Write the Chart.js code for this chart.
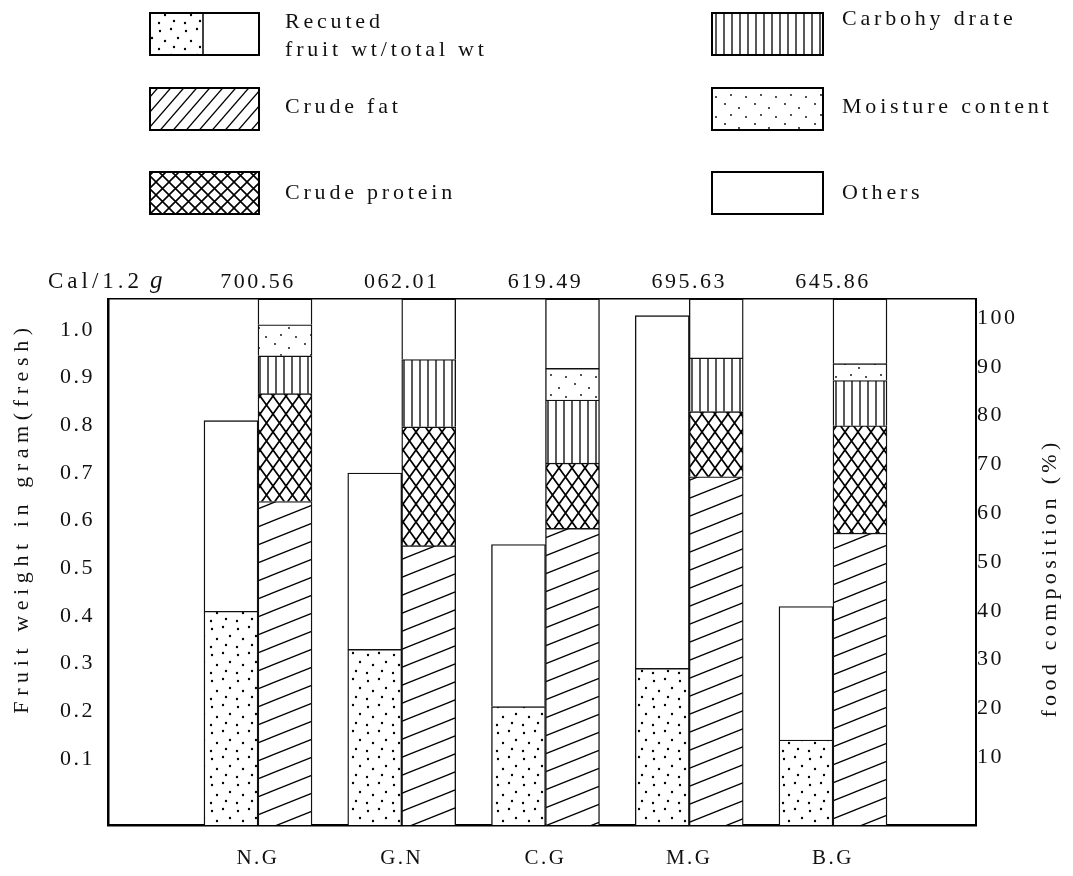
<!DOCTYPE html>
<html>
<head>
<meta charset="utf-8">
<script src="https://cdn.jsdelivr.net/npm/chart.js@4"></script>
<style>
  html, body { margin: 0; padding: 0; background: #fff; }
</style>
</head>
<body>
<canvas id="chart" width="1073" height="876"></canvas>
<script>
/* Data */
const groups = ["N.G", "G.N", "C.G", "M.G", "B.G"];
const calories = ["700.56", "062.01", "619.49", "695.63", "645.86"];

// fruit weight in gram (fresh)
const totalWeight = [0.81, 0.70, 0.55, 1.03, 0.42];
const recutedWeight = [0.41, 0.33, 0.21, 0.29, 0.14];

// food composition (%), bottom to top
const crudeFat = [61.5, 53.1, 56.4, 66.2, 55.5];
const crudeProtein = [20.5, 22.6, 12.4, 12.4, 20.4];
const carbohydrate = [7.2, 12.8, 12.0, 10.2, 8.6];
const moisture = [5.9, 0, 6.0, 0, 3.2];
const others = [4.9, 11.5, 13.2, 11.2, 12.3];

const weightTicks = [0.1, 0.2, 0.3, 0.4, 0.5, 0.6, 0.7, 0.8, 0.9, 1.0];
const percentTicks = [10, 20, 30, 40, 50, 60, 70, 80, 90, 100];

/* Axis ranges (the drawn frame starts a bit below zero) */
const X_MIN = -0.0435, X_MAX = 5.995;
const Y_MIN = -0.0384, Y_MAX = 1.065;
const P_MIN = -3.9, P_MAX = 103.9;

const serif = "'Liberation Serif', 'DejaVu Serif', serif";
const ink = "#111";

const canvas = document.getElementById("chart");
const ctx = canvas.getContext("2d");

/* Patterns */
function tile(w, h, draw) {
  const c = document.createElement("canvas");
  c.width = w;
  c.height = h;
  const g = c.getContext("2d");
  g.fillStyle = "#fff";
  g.fillRect(0, 0, w, h);
  g.fillStyle = "#000";
  g.strokeStyle = "#000";
  draw(g, w, h);
  return ctx.createPattern(c, "repeat");
}

function dots(points, r) {
  return (g) => {
    points.forEach(([x, y]) => {
      g.beginPath();
      g.arc(x, y, r, 0, Math.PI * 2);
      g.fill();
    });
  };
}

function slash(width) {
  return (g, w, h) => {
    g.lineWidth = width;
    for (let k = -1; k <= 1; k++) {
      g.beginPath();
      g.moveTo(-w, 2 * h + k * h);
      g.lineTo(2 * w, -h + k * h);
      g.stroke();
    }
  };
}

function cross(width) {
  return (g, w, h) => {
    g.lineWidth = width;
    for (let k = -1; k <= 1; k++) {
      g.beginPath();
      g.moveTo(-w, -h + k * h);
      g.lineTo(2 * w, 2 * h + k * h);
      g.moveTo(-w, 2 * h + k * h);
      g.lineTo(2 * w, -h + k * h);
      g.stroke();
    }
  };
}

const patterns = {
  recuted: tile(26, 26, dots([[4, 5], [15, 3], [22, 12], [9, 15], [18, 21], [3, 23]], 1.2)),
  moisture: tile(30, 20, dots([[5, 4], [19, 8], [11, 15], [26, 17]], 0.9)),
  fat: tile(45, 18, slash(1.3)),
  protein: tile(13, 18, cross(1.7)),
  carb: tile(8, 8, (g) => {
    g.lineWidth = 1.3;
    g.beginPath();
    g.moveTo(4, 0);
    g.lineTo(4, 8);
    g.stroke();
  }),
  others: "#ffffff",
  fatKey: tile(13, 15, slash(1.3)),
  proteinKey: tile(13, 13, cross(1.6))
};

/* Datasets */
const xs = groups.map((g, i) => i + 1);

function range(lo, hi) {
  return xs.map((x, i) => ({ x: x, y: [typeof lo === "number" ? lo : lo[i], hi[i]] }));
}

function points(vals) {
  return xs.map((x, i) => ({ x: x, y: vals[i] }));
}

const barStyle = {
  borderColor: ink,
  borderWidth: 1.4,
  barThickness: 54
};

const datasets = [
  { label: "Recuted fruit wt", data: range(Y_MIN, recutedWeight), backgroundColor: patterns.recuted, stack: "weight", yAxisID: "y" },
  { label: "total wt", data: range(recutedWeight, totalWeight), backgroundColor: "#fff", stack: "weight", yAxisID: "y" },
  { label: "Crude fat", data: points(crudeFat), backgroundColor: patterns.fat, stack: "comp", yAxisID: "yc" },
  { label: "Crude protein", data: points(crudeProtein), backgroundColor: patterns.protein, stack: "comp", yAxisID: "yc" },
  { label: "Carbohy drate", data: points(carbohydrate), backgroundColor: patterns.carb, stack: "comp", yAxisID: "yc" },
  { label: "Moisture content", data: points(moisture), backgroundColor: patterns.moisture, stack: "comp", yAxisID: "yc" },
  { label: "Others", data: points(others), backgroundColor: patterns.others, stack: "comp", yAxisID: "yc" }
].map((d) => Object.assign({}, barStyle, d));

/* Text helper */
function label(c, text, x, y, size, spacing, align, italic) {
  c.font = (italic ? "italic " : "") + size + "px " + serif;
  c.letterSpacing = spacing + "px";
  c.textAlign = align || "left";
  c.textBaseline = "middle";
  c.fillStyle = ink;
  c.fillText(text, x, y);
}

/* Legend, axis titles, Cal label */
const legendKeys = [
  { x: 150, y: 13, w: 109, fill: "recuted", tx: 285, text: ["Recuted", "fruit wt/total wt"], ty: [22, 50] },
  { x: 150, y: 88, w: 109, fill: "fatKey", tx: 285, text: ["Crude fat"], ty: [107] },
  { x: 150, y: 172, w: 109, fill: "proteinKey", tx: 285, text: ["Crude protein"], ty: [193] },
  { x: 712, y: 13, w: 111, fill: "carb", tx: 842, text: ["Carbohy drate"], ty: [19] },
  { x: 712, y: 88, w: 111, fill: "moisture", tx: 842, text: ["Moisture content"], ty: [107] },
  { x: 712, y: 172, w: 111, fill: "others", tx: 842, text: ["Others"], ty: [193] }
];

const decorations = {
  id: "decorations",
  beforeDraw(chart) {
    chart.ctx.letterSpacing = "2.5px";
  },
  afterDraw(chart) {
    const c = chart.ctx;
    c.save();

    legendKeys.forEach((k) => {
      const h = 42;
      c.fillStyle = patterns[k.fill];
      if (k.fill === "recuted") {
        c.fillRect(k.x, k.y, 53, h);
        c.fillStyle = "#fff";
        c.fillRect(k.x + 53, k.y, k.w - 53, h);
        c.strokeStyle = "#000";
        c.lineWidth = 1.5;
        c.beginPath();
        c.moveTo(k.x + 53, k.y);
        c.lineTo(k.x + 53, k.y + h);
        c.stroke();
      } else {
        c.fillRect(k.x, k.y, k.w, h);
      }
      c.strokeStyle = "#000";
      c.lineWidth = 2;
      c.strokeRect(k.x, k.y, k.w, h);
      k.text.forEach((t, i) => label(c, t, k.tx, k.ty[i], 22, 3.8, "left"));
    });

    // calorie row caption
    label(c, "Cal/1.2", 48, 282, 23, 4, "left");
    label(c, "g", 150, 281, 25, 0, "left", true);

    // axis titles
    c.save();
    c.translate(22, 518);
    c.rotate(-Math.PI / 2);
    label(c, "Fruit weight in gram(fresh)", 0, 0, 22, 5.6, "center");
    c.restore();

    c.save();
    c.translate(1050, 578);
    c.rotate(-Math.PI / 2);
    label(c, "food composition (%)", 0, 0, 22, 4.3, "center");
    c.restore();

    c.restore();
  }
};

/* Chart */
const tickFont = { family: serif, size: 22 };

new Chart(ctx, {
  type: "bar",
  data: { datasets: datasets },
  plugins: [decorations],
  options: {
    responsive: false,
    animation: false,
    events: [],
    layout: { padding: { top: 250, left: 0, right: 0, bottom: 0 } },
    plugins: {
      legend: { display: false },
      tooltip: { enabled: false }
    },
    scales: {
      x: {
        type: "linear",
        position: "bottom",
        offset: false,
        min: X_MIN,
        max: X_MAX,
        grid: { display: false, drawTicks: false, offset: false },
        border: { display: true, color: "#000", width: 2.5 },
        ticks: {
          font: { family: serif, size: 21 },
          color: ink,
          padding: 21,
          autoSkip: false,
          maxRotation: 0,
          callback: (v, i) => groups[i]
        },
        afterBuildTicks: (s) => {
          s.ticks = xs.map((v) => ({ value: v }));
        },
        afterFit: (s) => {
          s.height = 51;
        }
      },
      x2: {
        type: "linear",
        position: "top",
        offset: false,
        min: X_MIN,
        max: X_MAX,
        grid: { display: false, drawTicks: false, offset: false },
        border: { display: true, color: "#000", width: 1.5 },
        ticks: {
          font: tickFont,
          color: ink,
          padding: 4,
          autoSkip: false,
          maxRotation: 0,
          callback: (v, i) => calories[i]
        },
        afterBuildTicks: (s) => {
          s.ticks = xs.map((v) => ({ value: v }));
        },
        afterFit: (s) => {
          s.height = 49;
        }
      },
      y: {
        position: "left",
        min: Y_MIN,
        max: Y_MAX,
        stacked: false,
        grid: { display: false, drawTicks: false },
        border: { display: true, color: "#000", width: 2.5 },
        ticks: {
          font: tickFont,
          color: ink,
          padding: 13,
          callback: (v) => v.toFixed(1)
        },
        afterBuildTicks: (s) => {
          s.ticks = weightTicks.map((v) => ({ value: v }));
        },
        afterFit: (s) => {
          s.width = 108;
        }
      },
      y2: {
        position: "right",
        min: P_MIN,
        max: P_MAX,
        grid: { display: false, drawTicks: false },
        border: { display: true, color: "#000", width: 2 },
        ticks: {
          font: tickFont,
          color: ink,
          padding: 1,
          callback: (v) => String(v)
        },
        afterBuildTicks: (s) => {
          s.ticks = percentTicks.map((v) => ({ value: v }));
        },
        afterFit: (s) => {
          s.width = 97;
        }
      },
      yc: {
        axis: "y",
        display: false,
        stacked: true,
        min: 0,
        max: 100
      }
    }
  }
});
</script>
</body>
</html>
